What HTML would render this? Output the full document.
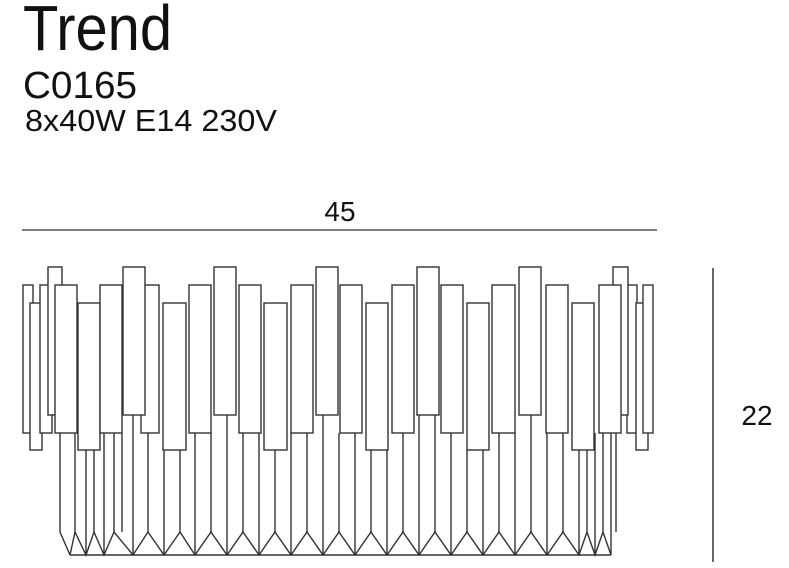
<!DOCTYPE html>
<html><head><style>
html,body{margin:0;padding:0;background:#fff;width:789px;height:568px;overflow:hidden}
svg{display:block}
text{font-family:"Liberation Sans",sans-serif;fill:#111}
</style></head><body>
<svg width="789" height="568" viewBox="0 0 789 568" xmlns="http://www.w3.org/2000/svg">
<text x="23" y="50" font-size="64" textLength="149" lengthAdjust="spacingAndGlyphs">Trend</text>
<text x="23" y="98" font-size="38" textLength="114" lengthAdjust="spacingAndGlyphs">C0165</text>
<text x="25" y="131" font-size="31" textLength="252" lengthAdjust="spacingAndGlyphs">8x40W  E14  230V</text>
<text x="340" y="221" font-size="28" text-anchor="middle">45</text>
<line x1="22" y1="230" x2="657" y2="230" stroke="#555" stroke-width="1.5"/>
<line x1="713" y1="268" x2="713" y2="562" stroke="#333" stroke-width="1.5"/>
<text x="757" y="425" font-size="28" text-anchor="middle">22</text>
<g fill="none" stroke="#333" stroke-width="1.4">
<!-- lower verticals & zigzag -->
<path id="zz" d=""/>
</g>
<g fill="none" stroke="#333" stroke-width="1.4">
<!-- generated lower part -->
<polyline points="70,555 75,532 86,555 94,532 104,555 114,532 133,555 148,532 164,555 180,532 195,555 211,532 227,555 243,532 259,555 275,532 291,555 307,532 323,555 339,532 355,555 371,532 387,555 403,532 419,555 435,532 451,555 467,532 483,555 499,532 515,555 531,532 547,555 563,532 579,555 587,532 595,555 603,532 611,555"/>
<line x1="70" y1="555" x2="611" y2="555"/>
<path d="M60 433V532L70 555 M75 433V532 M86 450V555 M94 450V532 M104 433V555 M114 433V532 M122 433V532 M133 415V555 M148 433V532 M164 450V555 M180 450V532 M195 433V555 M211 433V532 M227 415V555 M243 433V532 M259 433V555 M275 450V532 M291 433V555 M307 433V532 M323 415V555 M339 433V532 M355 433V555 M371 450V532 M387 450V555 M403 433V532 M419 415V555 M435 415V532 M451 433V555 M467 450V532 M483 450V555 M499 433V532 M515 433V555 M531 415V532 M547 433V555 M563 433V532 M579 450V555 M587 450V532 M595 433V555 M603 433V532 M611 433V555 M616 433V532"/>
</g>
<g fill="#fff" stroke="#333" stroke-width="1.4">
<!-- back/edge pieces -->
<rect x="23" y="285" width="10" height="148"/>
<rect x="30" y="303" width="12" height="147"/>
<rect x="40" y="285" width="12" height="148"/>
<rect x="48" y="267" width="14" height="148"/>
<rect x="627" y="285" width="10" height="148"/>
<rect x="636" y="303" width="12" height="147"/>
<rect x="643" y="285" width="10" height="148"/>
<rect x="613" y="267" width="15" height="148"/>
<!-- low row -->
<rect x="78" y="303" width="22" height="147"/>
<rect x="163" y="303" width="23" height="147"/>
<rect x="264" y="303" width="23" height="147"/>
<rect x="366" y="303" width="22" height="147"/>
<rect x="467" y="303" width="22" height="147"/>
<rect x="572" y="303" width="22" height="147"/>
<!-- front row -->
<rect x="55" y="285" width="22" height="148"/>
<rect x="100" y="285" width="22" height="148"/>
<rect x="141" y="285" width="18" height="148"/>
<rect x="189" y="285" width="22" height="148"/>
<rect x="239" y="285" width="22" height="148"/>
<rect x="291" y="285" width="22" height="148"/>
<rect x="340" y="285" width="22" height="148"/>
<rect x="392" y="285" width="22" height="148"/>
<rect x="441" y="285" width="22" height="148"/>
<rect x="492" y="285" width="23" height="148"/>
<rect x="546" y="285" width="22" height="148"/>
<rect x="599" y="285" width="22" height="148"/>
<!-- tall row -->
<rect x="123" y="267" width="22" height="148"/>
<rect x="214" y="267" width="22" height="148"/>
<rect x="316" y="267" width="22" height="148"/>
<rect x="417" y="267" width="22" height="148"/>
<rect x="519" y="267" width="22" height="148"/>
</g>
</svg>
</body></html>
